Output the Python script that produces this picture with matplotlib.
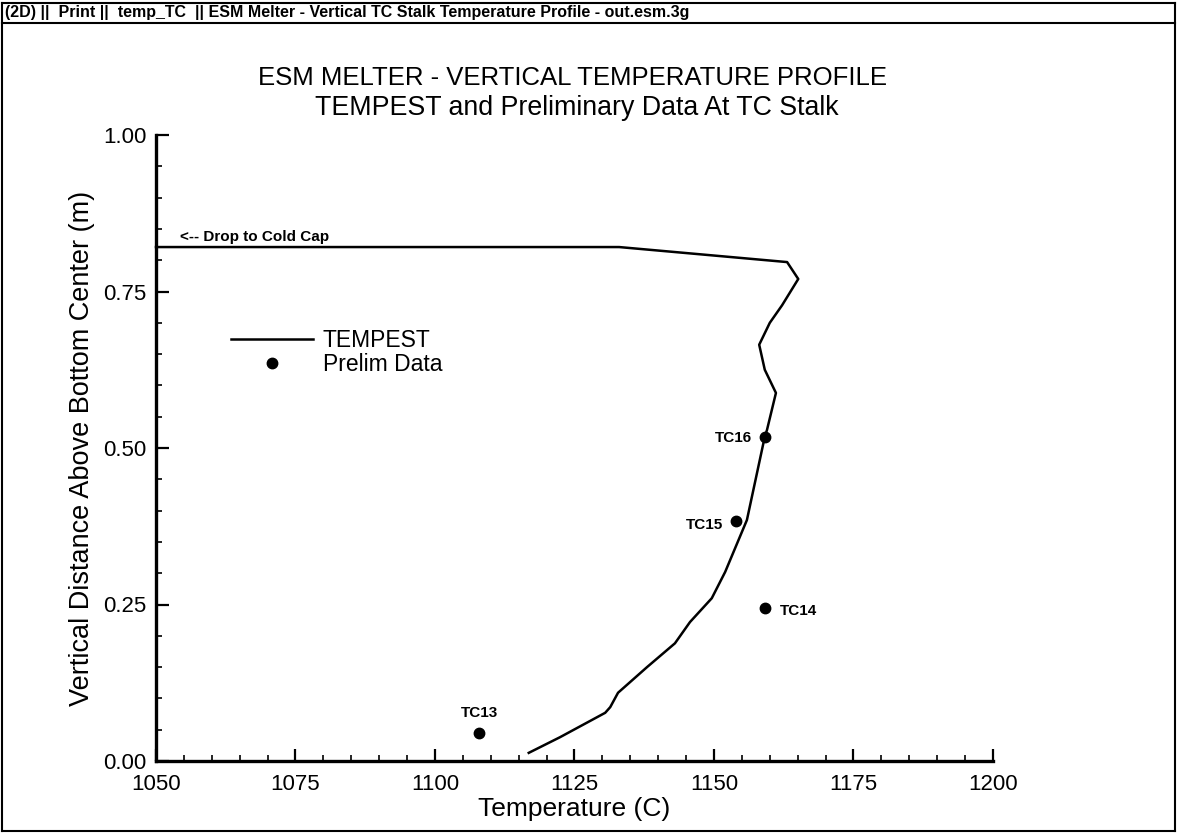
import matplotlib
matplotlib.use('Agg')
import matplotlib.pyplot as plt
from matplotlib.ticker import MultipleLocator, FormatStrFormatter
from matplotlib.lines import Line2D

plt.rcParams['font.family'] = ['Liberation Sans', 'DejaVu Sans']

# ---- data ----
tempest_T = [1050.0, 1133.0, 1163.1, 1165.1, 1162.2, 1160.0, 1158.1, 1159.1, 1161.1,
             1159.5, 1159.1, 1155.9, 1152.0, 1149.6, 1145.7, 1143.0, 1138.0, 1132.8,
             1131.4, 1130.5, 1122.4, 1116.8]
tempest_z = [0.821, 0.821, 0.797, 0.770, 0.728, 0.700, 0.665, 0.625, 0.588,
             0.529, 0.518, 0.385, 0.302, 0.260, 0.222, 0.188, 0.150, 0.109,
             0.086, 0.077, 0.038, 0.013]

prelim_labels = ['TC13', 'TC14', 'TC15', 'TC16']
prelim_T = [1107.9, 1159.1, 1153.9, 1159.1]
prelim_z = [0.045, 0.244, 0.383, 0.518]

x_ticks = [1050, 1075, 1100, 1125, 1150, 1175, 1200]
y_ticks = [0.00, 0.25, 0.50, 0.75, 1.00]

header = "(2D) ||  Print ||  temp_TC  || ESM Melter - Vertical TC Stalk Temperature Profile - out.esm.3g"
title1 = "ESM MELTER - VERTICAL TEMPERATURE PROFILE"
title2 = "TEMPEST and Preliminary Data At TC Stalk"
note = "<-- Drop to Cold Cap"

W, H = 1177, 833
fig = plt.figure(figsize=(W / 100, H / 100), dpi=100)
fig.patch.set_facecolor('white')

ax = fig.add_axes([156 / W, 1 - 761 / H, (993 - 156) / W, (761 - 135) / H])
ax.set_xlim(1050, 1200)
ax.set_ylim(0, 1.0)

line, = ax.plot(tempest_T, tempest_z, color='black', lw=1.8, solid_joinstyle='round',
                label='TEMPEST', clip_on=False)
pts, = ax.plot(prelim_T, prelim_z, 'o', color='black', ms=7.5, ls='none',
               label='Prelim Data', clip_on=False)

offsets = {'TC13': (0, 14, 'center', 'center'),
           'TC14': (11, -2, 'left', 'center'),
           'TC15': (-9, -3, 'right', 'center'),
           'TC16': (-9, -1, 'right', 'center')}
for lab, t, z in zip(prelim_labels, prelim_T, prelim_z):
    dx, dy, ha, va = offsets[lab]
    ax.annotate(lab, (t, z), xytext=(dx, dy), textcoords='offset points',
                ha=ha, va=va, fontsize=11, fontweight='bold')

ax.annotate(note, (tempest_T[0], tempest_z[0]), xytext=(17, 7), textcoords='offset points',
            ha='left', va='center', fontsize=11, fontweight='bold')

for s in ['top', 'right']:
    ax.spines[s].set_visible(False)
for s in ['left', 'bottom']:
    ax.spines[s].set_linewidth(2.4)

ax.set_xticks(x_ticks)
ax.set_yticks(y_ticks)
ax.xaxis.set_minor_locator(MultipleLocator(5))
ax.yaxis.set_minor_locator(MultipleLocator(0.05))
ax.yaxis.set_major_formatter(FormatStrFormatter('%.2f'))
ax.tick_params(which='major', direction='in', length=9, width=1.6, labelsize=16)
ax.tick_params(which='minor', direction='in', length=4.5, width=1.2)
ax.tick_params(axis='y', which='major', pad=7)
ax.tick_params(axis='x', which='major', pad=9)

ax.set_xlabel('Temperature (C)', fontsize=19, labelpad=2)
ax.set_ylabel('Vertical Distance Above Bottom Center (m)', fontsize=19.5, labelpad=6)

leg = ax.legend(handles=[line, pts], loc='upper left', bbox_to_anchor=(0.09, 0.690),
                frameon=False, fontsize=16.5, handlelength=3.55, handletextpad=0.45,
                labelspacing=0.05, borderpad=0, borderaxespad=0)

fig.text(572 / W, 1 - 78 / H, title1, ha='center', va='center', fontsize=18.5)
fig.text(577 / W, 1 - 108 / H, title2, ha='center', va='center', fontsize=19.3)

# header band and frame
fig.text(5 / W, 1 - 13 / H, header, ha='left', va='center', fontsize=11.5, fontweight='bold')
for y in [3, 23]:
    fig.add_artist(Line2D([2 / W, 1175 / W], [1 - y / H, 1 - y / H], color='black', lw=1.5,
                          transform=fig.transFigure))
fig.add_artist(Line2D([2 / W, 2 / W], [1 - 3 / H, 1 - 831 / H], color='black', lw=1.5,
                      transform=fig.transFigure))
fig.add_artist(Line2D([1175 / W, 1175 / W], [1 - 3 / H, 1 - 831 / H], color='black', lw=1.5,
                      transform=fig.transFigure))
fig.add_artist(Line2D([2 / W, 1175 / W], [1 - 831 / H, 1 - 831 / H], color='black', lw=1.5,
                      transform=fig.transFigure))

fig.savefig('out.png', dpi=100, facecolor='white')
